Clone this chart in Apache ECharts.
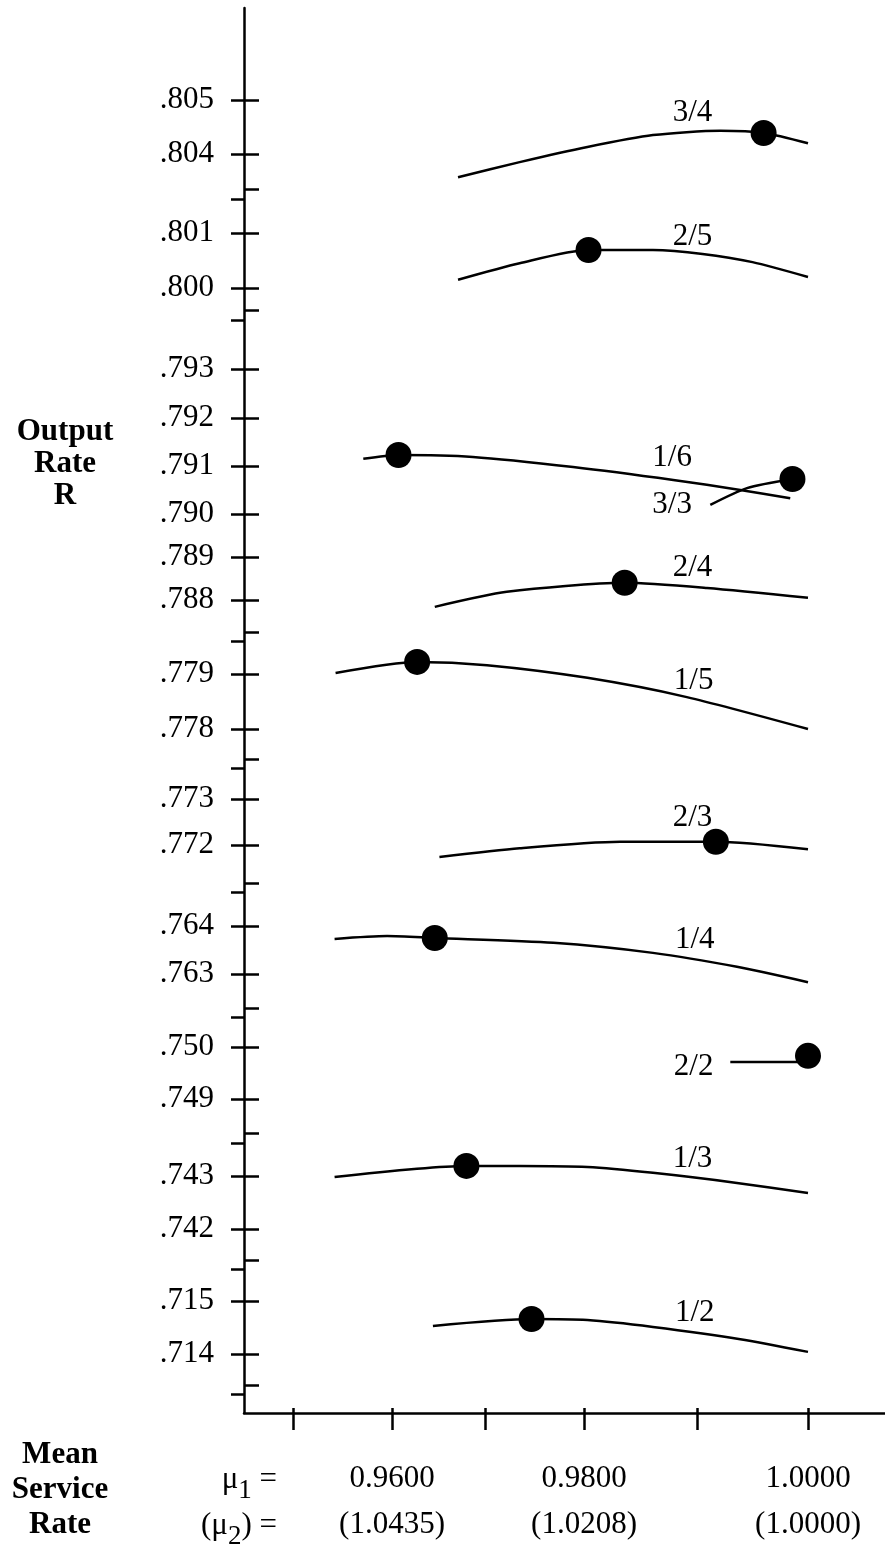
<!DOCTYPE html>
<html><head><meta charset="utf-8">
<script src="https://cdn.jsdelivr.net/npm/echarts@6/dist/echarts.min.js"></script>
<style>html,body{margin:0;padding:0;background:#fff}#c{width:885px;height:1548px}</style>
</head><body><div id="c"></div>
<script>
// ---------------- DATA ----------------
// x axis: mean service rate mu1 (tick values) and the matching mu2 labels
const xTicks = [0.95, 0.96, 0.97, 0.98, 0.99, 1.00];
const xLabelMu1 = [0.96, 0.98, 1.00];
const xLabelMu2 = [1.0435, 1.0208, 1.0000];

// broken y axis: labelled output-rate values of each axis segment (top to bottom)
const yBandTicks = [
  [0.805, 0.804],
  [0.801, 0.800],
  [0.793, 0.792, 0.791, 0.790, 0.789, 0.788],
  [0.779, 0.778],
  [0.773, 0.772],
  [0.764, 0.763],
  [0.750, 0.749],
  [0.743, 0.742],
  [0.715, 0.714]
];

// curves (N1/N2 allocations), the axis segment each belongs to
const curveNames = ['3/4', '2/5', '1/6', '3/3', '2/4', '1/5', '2/3', '1/4', '2/2', '1/3', '1/2'];
const curveBand  = [0, 1, 2, 2, 2, 3, 4, 5, 6, 7, 8];

const mu_34 = [0.9671, 0.9735, 0.9803, 0.9861, 0.9921, 0.9960, 1.0000];
const R_34  = [0.80357, 0.80385, 0.80413, 0.80435, 0.80443, 0.80439, 0.80420];
const mu_25 = [0.9671, 0.9735, 0.9804, 0.9861, 0.9905, 0.9950, 1.0000];
const R_25  = [0.80015, 0.80045, 0.80069, 0.80069, 0.80062, 0.80047, 0.80020];
const mu_16 = [0.9571, 0.9607, 0.9687, 0.9789, 0.9879, 0.9939, 0.9984];
const R_16  = [0.79115, 0.79123, 0.79119, 0.79098, 0.79071, 0.79050, 0.79033];
const mu_33 = [0.9912, 0.9945, 0.9986];
const R_33  = [0.79019, 0.79054, 0.79073];
const mu_24 = [0.9646, 0.9722, 0.9836, 0.9909, 1.0000];
const R_24  = [0.78784, 0.78819, 0.78840, 0.78828, 0.78805];
const mu_15 = [0.9543, 0.9627, 0.9702, 0.9803, 0.9891, 1.0000];
const R_15  = [0.77902, 0.77922, 0.77916, 0.77893, 0.77858, 0.77800];
const mu_23 = [0.9651, 0.9735, 0.9832, 0.9917, 1.0000];
const R_23  = [0.77174, 0.77193, 0.77207, 0.77207, 0.77191];
const mu_14 = [0.9542, 0.9595, 0.9646, 0.9769, 0.9861, 0.9936, 1.0000];
const R_14  = [0.76373, 0.76379, 0.76375, 0.76365, 0.76344, 0.76315, 0.76283];
const mu_22 = [0.9930, 1.0000];
const R_22  = [0.74971, 0.74971];
const mu_13 = [0.9542, 0.9680, 0.9735, 0.9803, 0.9861, 0.9936, 1.0000];
const R_13  = [0.74298, 0.74319, 0.74319, 0.74317, 0.74306, 0.74287, 0.74268];
const mu_12 = [0.9644, 0.9747, 0.9803, 0.9861, 0.9939, 1.0000];
const R_12  = [0.71453, 0.71466, 0.71464, 0.71451, 0.71428, 0.71404];

const curveMu = [mu_34, mu_25, mu_16, mu_33, mu_24, mu_15, mu_23, mu_14, mu_22, mu_13, mu_12];
const curveR  = [R_34, R_25, R_16, R_33, R_24, R_15, R_23, R_14, R_22, R_13, R_12];

// optimum (black dot) of each curve
const dotMu = [0.9960, 0.9804, 0.9607, 0.9986, 0.9836, 0.9627, 0.9917, 0.9646, 1.0000, 0.9680, 0.9747];
const dotR  = [0.80439, 0.80069, 0.79123, 0.79073, 0.78840, 0.77922, 0.77207, 0.76375, 0.74983, 0.74319, 0.71466];

// ---------------- LAYOUT (axis geometry, in chart units) ----------------
const LAYOUT = {
  xRange: [244, 885],
  yRange: [8, 1413],
  xTickPos: [293, 392, 485, 584, 697, 808],
  yBandPos: [
    [100, 154], [233, 288], [369, 418, 466, 514, 557, 600], [674, 729],
    [799, 845], [926, 974], [1047, 1099], [1176, 1229], [1301, 1354]
  ],
  breaks: [[189, 199], [310, 320], [632, 641], [759, 768], [883, 892],
           [1008, 1017], [1133, 1143], [1260, 1269], [1385, 1394]],
  curveLabelMu: [0.9896, 0.9896, 0.9878, 0.9878, 0.9896, 0.9897, 0.9896, 0.9898, 0.9897, 0.9896, 0.9898],
  curveLabelR:  [0.80476, 0.80093, 0.79117, 0.79019, 0.78874, 0.77887, 0.77259, 0.76371, 0.74962, 0.74332, 0.71477]
};

const FONT = '"Liberation Serif","Times New Roman",Times,serif';
const FS = 31;

function interp(v, vals, pos) {
  const n = vals.length;
  let i = 0;
  const asc = vals[n - 1] > vals[0];
  for (i = 0; i < n - 2; i++) {
    if (asc ? v <= vals[i + 1] : v >= vals[i + 1]) break;
  }
  const a = vals[i], b = vals[i + 1];
  return pos[i] + (v - a) / (b - a) * (pos[i + 1] - pos[i]);
}
const xDisp = mu => interp(mu, xTicks, LAYOUT.xTickPos);
const yDisp = (band, r) => interp(r, yBandTicks[band], LAYOUT.yBandPos[band]);

const yLabelItems = [];
yBandTicks.forEach((vals, b) => vals.forEach(v => yLabelItems.push({ p: yDisp(b, v), t: v.toFixed(3).replace(/^0/, '') })));
const yLabelPos = yLabelItems.map(d => d.p);
const yLeftTicks = yLabelPos.concat(LAYOUT.breaks.map(d => d[1]));
const yRightTicks = yLabelPos.concat(LAYOUT.breaks.map(d => d[0]));
const xTickDisp = xTicks.map(xDisp);
const xLabelItems = xLabelMu1.map((m, i) => ({ p: xDisp(m), t: m.toFixed(4) + '\n(' + xLabelMu2[i].toFixed(4) + ')' }));

const series = [];
curveNames.forEach((name, k) => {
  const b = curveBand[k];
  series.push({
    type: 'line', name: name, xAxisIndex: 0, yAxisIndex: 0,
    data: curveMu[k].map((m, j) => [xDisp(m), yDisp(b, curveR[k][j])]),
    smooth: curveMu[k].length > 2 ? 0.25 : false,
    symbol: 'none', clip: false, silent: true,
    lineStyle: { color: '#000', width: 2.5, opacity: 1 }, z: 2
  });
});
series.push({
  type: 'scatter', xAxisIndex: 0, yAxisIndex: 0, silent: true, clip: false,
  symbol: 'circle', symbolSize: 26, itemStyle: { color: '#000', opacity: 1 }, z: 4,
  data: dotMu.map((m, k) => [xDisp(m), yDisp(curveBand[k], dotR[k])])
});
series.push({
  type: 'scatter', xAxisIndex: 0, yAxisIndex: 0, silent: true, clip: false,
  symbol: 'circle', symbolSize: 1, itemStyle: { color: 'rgba(0,0,0,0)', opacity: 1 }, z: 5,
  label: { show: true, position: 'inside', color: '#000', opacity: 1, fontSize: FS, fontFamily: FONT,
           formatter: p => p.data.name },
  data: curveNames.map((n, k) => ({ name: n, value: [xDisp(LAYOUT.curveLabelMu[k]), yDisp(curveBand[k], LAYOUT.curveLabelR[k])] }))
});

const tickStyle = { color: '#000', width: 2.5 };
const option = {
  animation: false,
  backgroundColor: '#fff',
  grid: { left: 244, right: 0, top: 8, bottom: 135 },
  xAxis: [
    { type: 'value', min: LAYOUT.xRange[0], max: LAYOUT.xRange[1], position: 'bottom',
      axisLine: { show: true, lineStyle: { color: '#000', width: 2.5 } },
      splitLine: { show: false },
      axisTick: { show: true, inside: false, length: 17, customValues: xTickDisp, lineStyle: tickStyle },
      axisLabel: { show: true, customValues: xLabelItems.map(d => d.p), margin: 43, lineHeight: 46,
        fontSize: FS, fontFamily: FONT, color: '#000',
        formatter: v => { const it = xLabelItems.find(d => Math.abs(d.p - v) < 0.5); return it ? it.t : ''; } } },
    { type: 'value', min: LAYOUT.xRange[0], max: LAYOUT.xRange[1], position: 'bottom',
      axisLine: { show: false }, splitLine: { show: false },
      axisTick: { show: true, inside: true, length: 5, customValues: xTickDisp, lineStyle: tickStyle },
      axisLabel: { show: false } }
  ],
  yAxis: [
    { type: 'value', inverse: true, min: LAYOUT.yRange[0], max: LAYOUT.yRange[1], position: 'left',
      axisLine: { show: true, lineStyle: { color: '#000', width: 2.5 } },
      splitLine: { show: false },
      axisTick: { show: true, inside: false, length: 13, customValues: yLeftTicks, lineStyle: tickStyle },
      axisLabel: { show: true, customValues: yLabelPos, margin: 30, fontSize: FS, fontFamily: FONT, color: '#000',
        formatter: v => { const it = yLabelItems.find(d => Math.abs(d.p - v) < 0.5); return it ? it.t : ''; } } },
    { type: 'value', inverse: true, min: LAYOUT.yRange[0], max: LAYOUT.yRange[1], position: 'left',
      axisLine: { show: false }, splitLine: { show: false },
      axisTick: { show: true, inside: true, length: 15, customValues: yRightTicks, lineStyle: tickStyle },
      axisLabel: { show: false } }
  ],
  graphic: [
    { type: 'text', x: 65, y: 464, silent: true,
      style: { text: 'Output\nRate\nR', fill: '#000', fontSize: FS, fontWeight: 'bold', fontFamily: FONT,
               lineHeight: 32, align: 'center', verticalAlign: 'middle', textAlign: 'center', textVerticalAlign: 'middle' } },
    { type: 'text', x: 60, y: 1490, silent: true,
      style: { text: 'Mean\nService\nRate', fill: '#000', fontSize: FS, fontWeight: 'bold', fontFamily: FONT,
               lineHeight: 35, align: 'center', verticalAlign: 'middle', textAlign: 'center', textVerticalAlign: 'middle' } },
    { type: 'text', x: 277, y: 1480, silent: true,
      style: { text: 'μ{s|1} =', fill: '#000', fontSize: FS, fontFamily: FONT,
               align: 'right', verticalAlign: 'middle', textAlign: 'right', textVerticalAlign: 'middle',
               rich: { s: { fontSize: 27, fontFamily: FONT, fill: '#000', padding: [22, 0, 0, 0] } } } },
    { type: 'text', x: 277, y: 1526, silent: true,
      style: { text: '(μ{s|2}) =', fill: '#000', fontSize: FS, fontFamily: FONT,
               align: 'right', verticalAlign: 'middle', textAlign: 'right', textVerticalAlign: 'middle',
               rich: { s: { fontSize: 27, fontFamily: FONT, fill: '#000', padding: [22, 0, 0, 0] } } } }
  ],
  series: series
};
const chart = echarts.init(document.getElementById('c'), null, { renderer: 'canvas' });
chart.setOption(option);
</script></body></html>
